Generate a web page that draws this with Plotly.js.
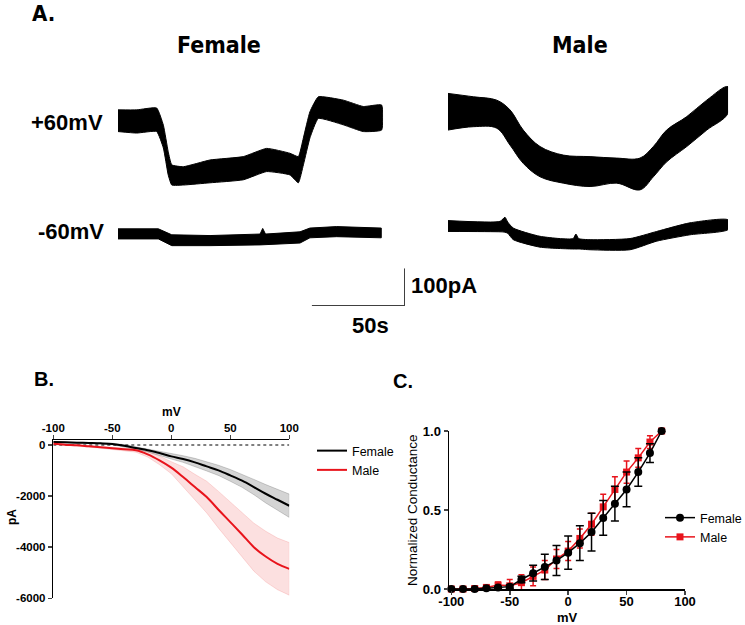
<!DOCTYPE html>
<html>
<head>
<meta charset="utf-8">
<script src="https://cdn.plot.ly/plotly-3.0.1.min.js"></script>
<style>
  html, body { margin: 0; padding: 0; background: #fff; }
  #chart { width: 745px; height: 625px; }
</style>
</head>
<body>
<div id="chart"></div>
<script>
// ---- panel A: current traces, noise envelope (time s, current pA) ----
const femPosT  = [0, 10, 20.7, 24.3, 26.9, 28.8, 35, 49.3, 67.1, 79.6, 92.1, 96.6, 99.3, 102.8, 107.3, 120.7, 131.4, 141.2];
const femPosHi = [241, 241, 246, 200, 129, 94, 89, 107, 116, 138, 125, 116, 166, 236, 276, 267, 250, 254];
const femPosLo = [183, 179, 183, 139, 67, 40, 40, 46, 54, 76, 67, 46, 94, 166, 218, 201, 183, 187];

const femNegT  = [0, 21.6, 28.8, 49.3, 76.1, 77.5, 79, 97.5, 102.8, 117.1, 141];
const femNegHi = [70, 70, 54, 52, 56, 71, 56, 62, 72, 76, 72];
const femNegLo = [43, 43, 25, 25, 27, 27, 27, 32, 46, 49, 46];

const malePosT  = [0, 13.6, 26.1, 33.2, 40.3, 49.3, 61.8, 76.1, 90.4, 102.8, 110, 117.1, 127.9, 138.6, 150];
const malePosHi = [285, 276, 267, 241, 187, 143, 120, 116, 112, 112, 143, 187, 223, 267, 303];
const malePosLo = [187, 196, 192, 147, 98, 62, 45, 36, 45, 27, 62, 102, 143, 187, 232];

const maleNegT  = [0, 27.9, 30.5, 32, 35, 49.3, 67, 68.5, 70, 76.1, 97.5, 111.8, 129.6, 150];
const maleNegHi = [92, 90, 101, 88, 72, 50, 44, 56, 44, 41, 44, 63, 86, 94];
const maleNegLo = [63, 62, 61, 58, 41, 21, 16, 16, 16, 14, 14, 37, 54, 68];

const scaleT = [0, 50, 50];
const scalePA = [0, 0, 100];

// ---- panel B: I-V ramps ----
const ivMv = [-100, -90, -80, -70, -60, -50, -40, -30, -20, -10, 0, 10, 20, 30, 40, 50, 60, 70, 80, 90, 100];
const femaleIV = [117, 105, 92, 78, 65, 40, -25, -118, -209, -314, -444, -549, -680, -837, -993, -1189, -1398, -1646, -1908, -2143, -2378];
const femaleIVsem = [20, 20, 20, 20, 25, 30, 40, 50, 60, 80, 105, 130, 157, 180, 200, 230, 260, 300, 360, 410, 457];
const maleIV = [51, 13, -13, -52, -91, -131, -170, -209, -366, -601, -888, -1254, -1646, -2038, -2535, -3018, -3502, -3999, -4365, -4653, -4849];
const maleIVsem = [20, 20, 25, 30, 35, 40, 50, 70, 105, 170, 235, 400, 500, 620, 720, 800, 880, 940, 990, 1010, 1030];
const ivTicks = [0, -2000, -4000, -6000];
const ivTickText = ['0', '-2000', '-4000', '-6000'];

// ---- panel C: normalized conductance ----
const gMv = [-100, -90, -80, -70, -60, -50, -40, -30, -20, -10, 0, 10, 20, 30, 40, 50, 60, 70, 80];
const femaleG = [0, 0, 0, 0.005, 0.01, 0.015, 0.06, 0.10, 0.14, 0.18, 0.23, 0.29, 0.36, 0.45, 0.54, 0.63, 0.74, 0.86, 1.0];
const femaleGerr = [0, 0, 0, 0, 0.005, 0.01, 0.02, 0.05, 0.08, 0.095, 0.105, 0.11, 0.12, 0.11, 0.11, 0.11, 0.09, 0.06, 0];
const maleG = [0, 0, 0.003, 0.01, 0.025, 0.02, 0.04, 0.08, 0.12, 0.19, 0.24, 0.32, 0.41, 0.52, 0.63, 0.74, 0.83, 0.93, 1.0];
const maleGerr = [0, 0, 0.005, 0.01, 0.02, 0.04, 0.05, 0.06, 0.06, 0.06, 0.06, 0.06, 0.07, 0.08, 0.08, 0.07, 0.06, 0.04, 0];

const W = 745, H = 625;
const RED = '#e8141c';
const FONT = 'Liberation Sans, Arial, sans-serif';
const NARROW = 'Liberation Sans Narrow, DejaVu Sans Condensed, Arial Narrow, sans-serif';
const dx = (a, b) => [a / W, b / W];
const dy = (top, bottom) => [1 - bottom / H, 1 - top / H];

function band(t, hi, lo, xa, ya, color, smooth) {
  const line = { color: color, width: 1 };
  if (smooth) { line.shape = 'spline'; line.smoothing = smooth; }
  return {
    x: t.concat(t.slice().reverse()),
    y: hi.concat(lo.slice().reverse()),
    xaxis: xa, yaxis: ya, mode: 'lines', fill: 'toself',
    fillcolor: color, line: line,
    showlegend: false, hoverinfo: 'skip'
  };
}

const upper = (m, s) => m.map((v, i) => v + s[i]);
const lower = (m, s) => m.map((v, i) => v - s[i]);

const traces = [
  band(femPosT, femPosHi, femPosLo, 'x', 'y', '#000', 0.4),
  band(femNegT, femNegHi, femNegLo, 'x', 'y2', '#000'),
  band(malePosT, malePosHi, malePosLo, 'x2', 'y', '#000', 1),
  band(maleNegT, maleNegHi, maleNegLo, 'x2', 'y2', '#000', 0.6),
  { x: scaleT, y: scalePA, xaxis: 'x3', yaxis: 'y3', mode: 'lines',
    line: { color: '#000', width: 1.5 }, showlegend: false, hoverinfo: 'skip' },

  // panel B
  band(ivMv, upper(maleIV, maleIVsem), lower(maleIV, maleIVsem), 'x4', 'y4', 'rgba(240,70,70,0.17)'),
  band(ivMv, upper(femaleIV, femaleIVsem), lower(femaleIV, femaleIVsem), 'x4', 'y4', 'rgba(0,0,0,0.17)'),
  { x: [ivMv[0], ivMv[ivMv.length - 1]], y: [0, 0], xaxis: 'x4', yaxis: 'y4', mode: 'lines',
    line: { color: '#000', width: 1, dash: 'dot' }, showlegend: false, hoverinfo: 'skip' },
  { x: ivMv, y: femaleIV, xaxis: 'x4', yaxis: 'y4', mode: 'lines', name: 'Female',
    line: { color: '#000', width: 2, shape: 'spline' }, legend: 'legend' },
  { x: ivMv, y: maleIV, xaxis: 'x4', yaxis: 'y4', mode: 'lines', name: 'Male',
    line: { color: RED, width: 2, shape: 'spline' }, legend: 'legend' },

  // panel C
  { x: gMv, y: maleG, xaxis: 'x5', yaxis: 'y5', mode: 'lines+markers', name: 'Male',
    line: { color: RED, width: 1.5 }, marker: { symbol: 'square', size: 7, color: RED },
    error_y: { type: 'data', array: maleGerr, color: RED, thickness: 1.5, width: 3 },
    cliponaxis: false, legend: 'legend2', legendrank: 2 },
  { x: gMv, y: femaleG, xaxis: 'x5', yaxis: 'y5', mode: 'lines+markers', name: 'Female',
    line: { color: '#000', width: 1.5 }, marker: { symbol: 'circle', size: 8, color: '#000' },
    error_y: { type: 'data', array: femaleGerr, color: '#000', thickness: 1.5, width: 4 },
    cliponaxis: false, legend: 'legend2', legendrank: 1 }
];

const hidden = { visible: false, fixedrange: true };
const axFont = { family: FONT, size: 11.5, color: '#000', weight: 700 };

const layout = {
  width: W, height: H,
  margin: { l: 0, r: 0, t: 0, b: 0, autoexpand: false },
  paper_bgcolor: '#fff', plot_bgcolor: 'rgba(0,0,0,0)',
  font: { family: FONT, color: '#000' },
  showlegend: true,

  xaxis:  Object.assign({ domain: dx(118, 118 + 142 * 1.867), range: [0, 142], anchor: 'y' }, hidden),
  xaxis2: Object.assign({ domain: dx(448, 448 + 150 * 1.867), range: [0, 150], anchor: 'y' }, hidden),
  xaxis3: Object.assign({ domain: dx(311.7, 405), range: [0, 50], anchor: 'y3' }, hidden),
  yaxis:  Object.assign({ domain: dy(200 - 320 * 0.374, 200), range: [0, 320], anchor: 'x' }, hidden),
  yaxis2: Object.assign({ domain: dy(255 - 120 * 0.374, 255), range: [0, 120], anchor: 'x' }, hidden),
  yaxis3: Object.assign({ domain: dy(268.3, 305.7), range: [0, 100], anchor: 'x3' }, hidden),

  xaxis4: {
    domain: dx(53.3, 289.3), range: [-100, 100], anchor: 'y4', side: 'top',
    tickvals: [-100, -50, 0, 50, 100], ticktext: ['-100', '-50', '0', '50', '100'],
    ticks: 'outside', ticklen: 4, tickwidth: 1.5, showline: true, linewidth: 1.5, linecolor: '#000',
    showgrid: false, zeroline: false, tickfont: axFont, ticklabelstandoff: -2, fixedrange: true
  },
  yaxis4: {
    domain: dy(440, 598.3), range: [-6000, 196], anchor: 'x4',
    tickvals: ivTicks, ticktext: ivTickText,
    ticks: 'outside', ticklen: 4, tickwidth: 1.5, showline: true, linewidth: 1.5, linecolor: '#000',
    showgrid: false, zeroline: false, tickfont: axFont, fixedrange: true
  },
  xaxis5: {
    domain: dx(449, 685), range: [-102, 100], anchor: 'y5',
    tickvals: [-100, -50, 0, 50, 100], ticktext: ['-100', '-50', '0', '50', '100'],
    ticks: 'outside', ticklen: 4, tickwidth: 1.5, showline: true, linewidth: 1.5, linecolor: '#000',
    showgrid: false, zeroline: false, tickfont: Object.assign({}, axFont, { size: 13 }),
    ticklabelstandoff: -4, fixedrange: true
  },
  yaxis5: {
    domain: dy(431, 589), range: [0, 1], anchor: 'x5',
    tickvals: [0, 0.5, 1], ticktext: ['0.0', '0.5', '1.0'],
    ticks: 'outside', ticklen: 4, tickwidth: 1.5, showline: true, linewidth: 1.5, linecolor: '#000',
    showgrid: false, zeroline: false, tickfont: Object.assign({}, axFont, { size: 13 }), fixedrange: true
  },

  legend: {
    x: 312 / W, y: 1 - 436 / H, xanchor: 'left', yanchor: 'top',
    bgcolor: 'rgba(0,0,0,0)', font: { family: FONT, size: 12.5, color: '#000' },
    tracegroupgap: 0, itemwidth: 30
  },
  legend2: {
    x: 660 / W, y: 1 - 503 / H, xanchor: 'left', yanchor: 'top',
    bgcolor: 'rgba(0,0,0,0)', font: { family: FONT, size: 12.5, color: '#000' },
    tracegroupgap: 0, itemwidth: 30, traceorder: 'normal'
  },

  annotations: [
    { text: 'A.', x: 30 / W, y: 1 - 13 / H, xanchor: 'left', yanchor: 'middle',
      font: { family: NARROW, size: 22, weight: 700 } },
    { text: 'Female', x: 219 / W, y: 1 - 45 / H, xanchor: 'center', yanchor: 'middle',
      font: { family: NARROW, size: 23, weight: 700 } },
    { text: 'Male', x: 580 / W, y: 1 - 45 / H, xanchor: 'center', yanchor: 'middle',
      font: { family: NARROW, size: 23, weight: 700 } },
    { text: '+60mV', x: 105 / W, y: 1 - 122 / H, xanchor: 'right', yanchor: 'middle',
      font: { size: 22, weight: 700 } },
    { text: '-60mV', x: 106 / W, y: 1 - 232 / H, xanchor: 'right', yanchor: 'middle',
      font: { size: 22, weight: 700 } },
    { text: '100pA', x: 409 / W, y: 1 - 285 / H, xanchor: 'left', yanchor: 'middle',
      font: { size: 22, weight: 700 } },
    { text: '50s', x: 370 / W, y: 1 - 325 / H, xanchor: 'center', yanchor: 'middle',
      font: { size: 22, weight: 700 } },
    { text: 'B.', x: 32 / W, y: 1 - 379 / H, xanchor: 'left', yanchor: 'middle',
      font: { size: 20, weight: 700 } },
    { text: 'C.', x: 391 / W, y: 1 - 381 / H, xanchor: 'left', yanchor: 'middle',
      font: { size: 20, weight: 700 } },
    { text: 'mV', x: 171.7 / W, y: 1 - 412 / H, xanchor: 'center', yanchor: 'middle',
      font: { size: 12, weight: 700 } },
    { text: 'pA', x: 12 / W, y: 1 - 517 / H, xanchor: 'center', yanchor: 'middle', textangle: -90,
      font: { size: 12, weight: 700 } },
    { text: 'mV', x: 567 / W, y: 1 - 617 / H, xanchor: 'center', yanchor: 'middle',
      font: { size: 13, weight: 700 } },
    { text: 'Normalized Conductance', x: 413 / W, y: 1 - 510 / H, xanchor: 'center', yanchor: 'middle',
      textangle: -90, font: { size: 13.5 } }
  ].map(a => Object.assign({ xref: 'paper', yref: 'paper', showarrow: false }, a))
};

Plotly.newPlot('chart', traces, layout, { staticPlot: true, displayModeBar: false });
</script>
</body>
</html>
